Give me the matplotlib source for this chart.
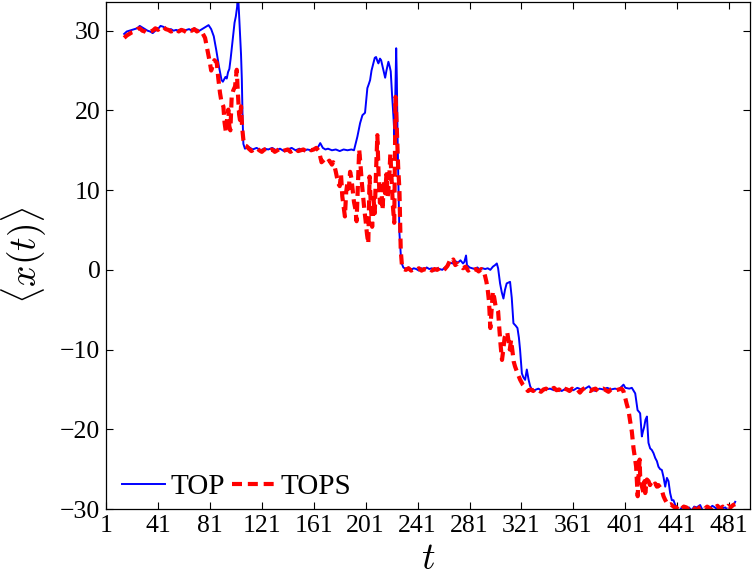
import matplotlib
matplotlib.use('Agg')
import matplotlib.pyplot as plt

plt.rcParams['font.family'] = ['Liberation Serif', 'DejaVu Serif']
plt.rcParams['mathtext.fontset'] = 'cm'

# TOP (blue, solid)
t_top = [15, 17, 19, 21, 23, 25, 27, 29, 31, 33, 35, 37, 39, 41, 43, 45, 47, 49, 51, 53,
         55, 57, 59, 61, 63, 65, 67, 69, 71, 73, 75, 77, 79, 80, 82, 84, 86, 88, 90, 91,
         92, 93, 94, 95, 96, 97, 98, 99, 100, 101, 102, 102.6, 103.2, 104, 105, 105.6, 106.2, 106.8, 108, 111,
         114, 117, 120, 123, 126, 129, 132, 135, 138, 141, 144, 147, 150, 153, 156, 159, 162, 164, 166, 168,
         170, 172, 175, 178, 181, 184, 187, 190, 192, 193.5, 194.6, 196.7, 198.5, 200.5, 202.3, 203.4, 204.4, 205.5, 206.9, 208,
         209, 210, 210.8, 212, 212.9, 214, 215, 216, 217, 218.5, 219.5, 220.3, 221.3, 222.4, 223.2, 224, 224.5, 225, 225.5, 226.3,
         227, 228, 228.8, 230, 232, 234, 236, 238, 240, 242, 244, 246, 248, 250, 252, 254, 256, 258, 260, 262,
         264, 266, 268, 270, 272, 274, 276, 277, 278.3, 279, 281, 283, 285, 287, 289, 291, 293, 295, 297, 299,
         300.7, 302, 303, 304.5, 305.8, 307.1, 308.3, 309.6, 311, 312.2, 313.5, 314.8, 316.5, 317.9, 319, 319.9, 321.3, 322.5, 323.8, 325.1,
         326.5, 327.7, 329, 331, 334, 337, 340, 343, 346, 349, 352, 355, 358, 361, 364, 367, 370, 373, 375, 378,
         381, 384, 387, 390, 393, 396, 399.6, 401, 404, 406, 407.5, 408.6, 410.4, 411.5, 412.4, 413.7, 414.5, 415.5, 416.5, 417.6,
         418.8, 420.1, 421.4, 422.7, 424, 425.3, 426.5, 427.8, 429.1, 430.4, 431.7, 433, 434.2, 435.5, 436.8, 438.1, 439.4, 440.7, 442, 444,
         446, 448, 450, 452, 454, 456, 458.6, 460, 462, 464, 466, 468, 470, 472, 474, 476, 478, 480, 482, 484,
         485.6]
top = [29.6, 29.9, 30.0, 30.1, 30.2, 30.3, 30.6, 30.4, 30.2, 30.0, 29.9, 29.7, 30.0, 30.2, 30.6, 30.5, 30.3, 30.1, 30.2, 30.0,
       30.1, 30.0, 30.2, 30.0, 30.1, 30.2, 30.0, 30.3, 30.1, 30.0, 30.2, 30.4, 30.6, 30.7, 30.2, 29.3, 27.5, 25.5, 23.8, 23.6,
       23.9, 24.2, 24.0, 24.8, 25.2, 26.5, 28.0, 29.5, 31.0, 31.8, 33.0, 35.0, 33.0, 30.5, 27.0, 24.0, 19.0, 15.8, 15.2, 15.4,
       15.1, 15.3, 15.0, 15.2, 15.1, 15.3, 15.0, 15.2, 14.9, 15.1, 15.3, 15.0, 15.2, 14.9, 15.1, 15.0, 15.2, 15.3, 15.9, 15.3,
       15.1, 15.2, 15.0, 15.1, 14.9, 15.1, 15.0, 15.1, 15.0, 16.0, 16.7, 18.4, 19.4, 19.7, 22.8, 23.3, 23.8, 25.0, 25.9, 26.6,
       26.7, 26.2, 25.9, 26.5, 26.3, 25.5, 24.8, 24.1, 25.0, 26.1, 25.5, 24.9, 22.0, 19.2, 16.7, 24.0, 27.8, 24.0, 17.2, 10.0,
       4.6, 2.0, 0.8, 0.3, 0.1, 0.3, 0.0, 0.2, 0.1, -0.1, 0.2, 0.0, 0.3, 0.1, 0.2, -0.1, 0.2, 0.1, 0.0, 0.3,
       0.4, 0.9, 0.8, 1.1, 0.9, 1.2, 0.8, 1.0, 1.8, 0.6, 0.3, 0.2, 0.1, 0.3, 0.0, 0.2, 0.1, 0.2, 0.0, 0.4,
       0.6, 0.8, 0.2, -1.7, -2.8, -3.6, -2.5, -1.7, -1.6, -1.5, -3.5, -6.7, -7.0, -7.3, -8.5, -10.0, -13.0, -13.5, -13.8, -12.5,
       -13.8, -14.6, -15.0, -15.1, -14.9, -15.2, -15.0, -14.9, -15.1, -15.0, -15.2, -14.9, -15.0, -15.1, -14.8, -15.0, -14.9, -14.6, -15.0, -15.2,
       -14.9, -15.0, -14.8, -15.0, -14.9, -15.0, -14.4, -14.8, -14.9, -14.8, -15.2, -15.5, -17.6, -17.8, -18.0, -20.9, -20.3, -19.7, -18.8, -18.4,
       -21.7, -22.4, -22.6, -23.0, -23.6, -24.0, -24.7, -25.0, -25.1, -26.0, -27.2, -26.1, -26.5, -28.0, -28.9, -28.9, -29.5, -30.0, -30.4, -29.9,
       -29.6, -30.1, -29.8, -30.2, -29.7, -29.8, -29.5, -30.0, -30.3, -29.8, -29.9, -29.6, -29.8, -30.1, -29.7, -29.9, -29.8, -30.2, -29.9, -29.6,
       -29.1]

# TOPS (red, dashed)
t_tops = [15, 17, 19, 21, 23, 25, 27, 29, 31, 33, 35, 37, 39, 41, 43, 45, 47, 49, 51, 53,
          55, 57, 59, 61, 63, 65, 67, 69, 71, 73, 75, 77.3, 79.8, 81, 82, 83, 84.5, 86.3, 87.5, 88.8,
          90, 91.4, 92.3, 93.4, 94.3, 95.2, 96, 96.8, 97.8, 99, 100.4, 101.7, 102.3, 102.9, 103.5, 104.2, 105, 105.8, 106.8, 108,
          109.4, 111, 113, 115, 117, 119, 121, 123, 125, 127, 129, 131, 133, 135, 137, 139, 141, 143, 145, 147,
          149, 151, 153, 155, 157, 159, 161, 163, 165, 167, 169, 171, 173, 175, 176, 177, 178, 179, 180, 181,
          182, 183, 184, 185, 186, 187, 188, 189, 190, 191, 192, 193, 194, 195, 196, 197, 198, 199, 200, 201,
          202, 203, 204, 205, 206, 207, 208, 209, 210, 211, 212, 213, 214, 215, 216, 217, 218, 219, 220, 221,
          222, 223, 224, 225, 226, 227, 228, 229, 230, 232, 234, 236, 238, 240, 242, 244, 246, 248, 250, 252,
          254, 256, 258, 260, 262, 264, 266, 267.3, 268.5, 270, 272, 274, 276, 278, 280, 282, 284, 286, 288, 290,
          292, 293, 294, 295, 296, 297, 298, 299, 300, 301, 303, 304, 305, 306, 307, 308, 310, 312, 313, 315,
          316, 318, 320, 322, 324, 326, 328, 330, 332, 334, 336, 338, 340, 342, 344, 346, 348, 350, 352, 354,
          356, 358, 360, 362, 364, 366, 368, 370, 372, 374, 376, 378, 380, 382, 384, 386, 388, 390, 392, 394,
          396, 398, 399.5, 400.8, 402, 403.4, 404.7, 406, 407.3, 408.3, 409.3, 410, 410.5, 411.1, 412, 412.4, 413.5, 415, 415.8, 416.3,
          417.6, 418.8, 420, 421.3, 422.7, 424, 425.3, 426.5, 427.8, 429, 430.4, 431.5, 432.5, 434, 436, 438.1, 440, 442, 444, 446,
          448, 450, 452, 454, 456, 458, 460, 462, 464, 466, 468, 470, 472, 474, 476, 478, 480, 482, 484, 485.6]
tops = [29.1, 29.4, 29.6, 29.8, 29.9, 30.2, 30.3, 30.0, 29.9, 29.7, 29.9, 30.0, 30.3, 30.1, 30.4, 30.5, 30.2, 30.1, 29.9, 30.0,
        30.2, 29.9, 30.1, 30.0, 29.8, 30.1, 30.0, 30.2, 29.9, 30.1, 29.8, 29.1, 27.0, 26.0, 25.0, 25.5, 26.3, 26.0, 24.0, 22.2,
        21.0, 20.5, 18.5, 17.2, 19.0, 20.1, 18.0, 17.5, 21.7, 22.5, 23.0, 25.1, 23.0, 21.3, 19.5, 18.8, 20.5, 18.0, 16.3, 15.6,
        15.5, 15.2, 14.9, 15.1, 15.3, 15.0, 14.8, 15.1, 15.2, 14.9, 15.1, 14.8, 15.0, 15.2, 14.9, 15.0, 15.1, 14.8, 15.0, 15.2,
        14.9, 15.0, 15.1, 14.9, 15.2, 15.0, 15.1, 15.3, 14.9, 13.5, 13.8, 13.4, 13.7, 13.2, 13.5, 13.0, 12.3, 11.5, 10.8, 10.5,
        12.0, 9.2, 8.0, 6.7, 9.8, 11.0, 10.2, 12.3, 11.5, 10.0, 8.5, 7.7, 6.1, 10.5, 15.1, 13.2, 11.0, 9.2, 7.5, 6.1,
        4.5, 3.3, 11.7, 8.0, 5.4, 9.0, 7.1, 12.5, 16.9, 11.7, 8.4, 10.5, 7.5, 11.0, 9.6, 12.0, 9.2, 11.0, 14.6, 11.3,
        7.9, 5.9, 21.7, 17.6, 13.0, 10.0, 2.5, 0.4, 0.1, 0.0, 0.2, -0.1, 0.1, 0.0, 0.2, -0.1, 0.1, 0.0, 0.2, -0.1,
        0.1, 0.0, 0.2, -0.1, 0.1, 0.5, 1.2, 1.0, 1.3, 0.6, 0.8, 0.5, 0.2, 0.4, -0.1, 0.2, 0.0, 0.1, -0.2, 0.1,
        -0.2, -0.8, -1.5, -2.5, -4.0, -7.3, -5.0, -2.7, -3.5, -4.5, -5.2, -7.5, -9.6, -11.3, -10.0, -8.5, -7.8, -10.0, -8.8, -11.5,
        -12.1, -13.0, -13.8, -14.4, -14.8, -15.2, -15.0, -15.2, -14.9, -15.1, -15.3, -15.0, -14.9, -15.2, -15.0, -14.8, -15.1, -15.0, -15.3, -14.9,
        -15.0, -15.2, -14.9, -15.1, -15.0, -15.4, -15.0, -14.8, -15.1, -15.2, -15.0, -14.9, -15.2, -15.0, -14.9, -15.1, -15.3, -15.0, -14.9, -15.1,
        -15.0, -14.9, -15.2, -16.0, -16.8, -17.6, -19.0, -20.3, -22.4, -23.5, -24.7, -27.0, -28.4, -26.0, -23.8, -25.9, -27.0, -28.0, -26.5, -28.0,
        -26.3, -26.5, -27.0, -26.6, -27.0, -26.8, -27.2, -27.0, -27.3, -27.6, -28.4, -28.8, -29.1, -29.5, -29.4, -29.7, -29.9, -29.6, -30.0, -29.7,
        -29.8, -30.1, -29.6, -29.9, -30.2, -29.8, -29.6, -30.0, -29.7, -29.9, -30.2, -29.8, -29.6, -30.0, -29.7, -29.9, -29.6, -29.8, -29.5, -29.4]

x_ticks = [1, 41, 81, 121, 161, 201, 241, 281, 321, 361, 401, 441, 481]
y_ticks = [-30, -20, -10, 0, 10, 20, 30]

fig = plt.figure(figsize=(7.52, 5.76), dpi=100)
ax = fig.add_axes([106 / 752, 67 / 576, 644 / 752, 507 / 576])

ax.plot(t_top, top, color='blue', lw=1.4, label='TOP')
ax.plot(t_tops, tops, color='red', lw=3, dashes=(2.4, 1.4), label='TOPS')

ax.set_xlim(1, 497)
ax.set_ylim(-30, 33.6)
ax.set_xticks(x_ticks)
ax.set_yticks(y_ticks)
ax.tick_params(direction='in', length=5, width=0.8, top=True, right=True,
               labelsize=18.5, pad=4)
for s in ax.spines.values():
    s.set_linewidth(0.9)

ax.set_xlabel(r'$t$', fontsize=27, labelpad=4)
ax.set_ylabel(r'$\langle x(t)\rangle$', fontsize=27, labelpad=8)

ax.legend(loc='lower left', ncol=2, frameon=False, fontsize=21,
          handlelength=1.45, handletextpad=0.2, columnspacing=0.25,
          borderaxespad=0.1, borderpad=0.2, bbox_to_anchor=(0.012, 0.0))

fig.savefig('out.png', dpi=100)
